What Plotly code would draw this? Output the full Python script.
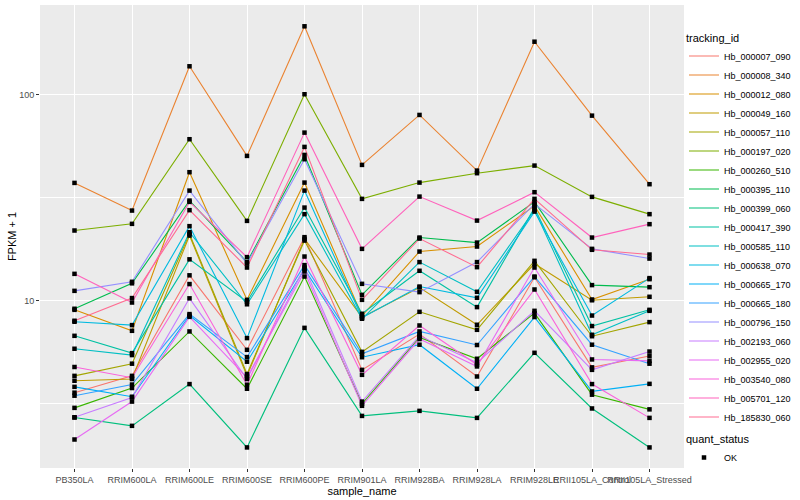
import plotly.graph_objects as go

samples = ["PB350LA", "RRIM600LA", "RRIM600LE", "RRIM600SE", "RRIM600PE", "RRIM901LA",
           "RRIM928BA", "RRIM928LA", "RRIM928LE", "RRII105LA_Control", "RRII105LA_Stressed"]

tracking_ids = ["Hb_000007_090", "Hb_000008_340", "Hb_000012_080", "Hb_000049_160", "Hb_000057_110",
                "Hb_000197_020", "Hb_000260_510", "Hb_000395_110", "Hb_000399_060", "Hb_000417_390",
                "Hb_000585_110", "Hb_000638_070", "Hb_000665_170", "Hb_000665_180", "Hb_000796_150",
                "Hb_002193_060", "Hb_002955_020", "Hb_003540_080", "Hb_005701_120", "Hb_185830_060"]

colors = ["#F8766D", "#EA8331", "#D89000", "#C09B00", "#A3A500", "#7CAE00", "#39B600", "#00BB4E",
          "#00BF7D", "#00C1A3", "#00BFC4", "#00BAE0", "#00B0F6", "#35A2FF", "#9590FF", "#C77CFF",
          "#E76BF3", "#FA62DB", "#FF62BC", "#FF6C91"]

# FPKM + 1 per sample (same order as samples)
hb_000007_090 = [3.58, 4.32, 13.30, 5.78, 20.38, 4.62, 6.89, 4.29, 13.01, 4.75, 5.39]
hb_000008_340 = [37.39, 27.44, 137.8, 50.57, 215.5, 45.73, 79.96, 42.90, 181.4, 79.34, 36.85]
hb_000012_080 = [9.04, 7.15, 42.15, 10.11, 37.52, 8.46, 17.35, 18.35, 28.92, 10.15, 12.74]
hb_000049_160 = [4.09, 4.17, 20.75, 4.32, 20.00, 8.32, 11.60, 7.65, 15.13, 10.06, 10.46]
hb_000057_110 = [4.32, 4.95, 21.14, 4.41, 19.62, 5.65, 8.84, 7.23, 15.64, 6.73, 7.88]
hb_000197_020 = [21.95, 23.65, 60.95, 24.45, 100.8, 31.27, 37.52, 41.68, 45.38, 31.98, 26.36]
hb_000260_510 = [3.02, 3.77, 7.10, 3.74, 13.12, 3.16, 6.64, 5.23, 8.72, 3.50, 2.97]
hb_000395_110 = [9.15, 12.16, 30.68, 15.42, 51.13, 10.69, 20.29, 19.18, 30.24, 11.92, 11.65]
hb_000399_060 = [2.71, 2.47, 3.94, 1.94, 7.39, 2.76, 2.92, 2.70, 5.59, 3.00, 1.94]
hb_000417_390 = [6.76, 5.57, 15.90, 9.89, 28.37, 8.65, 13.99, 9.32, 28.28, 7.54, 9.04]
hb_000585_110 = [5.85, 5.45, 21.55, 9.62, 26.36, 8.18, 15.42, 11.06, 27.65, 6.84, 8.94]
hb_000638_070 = [7.91, 7.62, 23.05, 6.59, 34.31, 8.27, 11.73, 10.34, 27.13, 8.48, 12.89]
hb_000665_170 = [3.82, 3.42, 8.48, 5.06, 14.25, 5.32, 6.12, 3.74, 8.34, 3.63, 3.95]
hb_000665_180 = [3.46, 3.92, 8.62, 5.33, 14.91, 5.53, 7.10, 6.10, 13.12, 6.12, 4.95]
hb_000796_150 = [11.18, 12.37, 34.31, 15.17, 48.74, 12.09, 11.02, 15.42, 29.57, 17.88, 16.04]
hb_002193_060 = [2.72, 3.39, 10.28, 4.17, 14.51, 3.24, 6.76, 5.00, 8.94, 4.62, 5.67]
hb_002955_020 = [2.12, 3.24, 8.36, 4.24, 13.88, 3.09, 6.52, 4.80, 14.51, 5.19, 5.11]
hb_003540_080 = [4.77, 4.23, 12.06, 3.91, 16.41, 4.37, 7.59, 4.89, 11.35, 3.94, 2.70]
hb_005701_120 = [13.52, 9.81, 30.24, 16.30, 65.62, 17.88, 32.08, 24.53, 33.70, 20.29, 23.57]
hb_185830_060 = [8.00, 10.31, 27.56, 14.51, 55.92, 10.11, 20.06, 14.57, 31.27, 17.69, 16.78]

series_values = [hb_000007_090, hb_000008_340, hb_000012_080, hb_000049_160, hb_000057_110,
                 hb_000197_020, hb_000260_510, hb_000395_110, hb_000399_060, hb_000417_390,
                 hb_000585_110, hb_000638_070, hb_000665_170, hb_000665_180, hb_000796_150,
                 hb_002193_060, hb_002955_020, hb_003540_080, hb_005701_120, hb_185830_060]

status_label = "OK"

FONT = "Liberation Sans, Arial, sans-serif"

fig = go.Figure()
for name, col, vals in zip(tracking_ids, colors, series_values):
    fig.add_trace(go.Scatter(x=samples, y=vals, mode="lines", name=name,
                             line=dict(color=col, width=1.1), legend="legend"))

all_x = [s for _ in series_values for s in samples]
all_y = [v for vals in series_values for v in vals]
fig.add_trace(go.Scatter(x=all_x, y=all_y, mode="markers", name=status_label,
                         marker=dict(color="black", size=4.5, symbol="square"),
                         legend="legend2"))

fig.update_layout(
    width=800, height=500,
    margin=dict(l=40, r=116, t=5, b=32, autoexpand=False),
    paper_bgcolor="white", plot_bgcolor="#EBEBEB",
    font=dict(family=FONT, size=9, color="#4D4D4D"),
    legend=dict(title=dict(text="tracking_id", font=dict(size=11, color="black")),
                x=1.0, xanchor="left", y=0.952, yanchor="top",
                font=dict(size=9, color="black"), bgcolor="rgba(0,0,0,0)",
                tracegroupgap=0, itemwidth=30),
    legend2=dict(title=dict(text="quant_status", font=dict(size=11, color="black")),
                 x=1.0, xanchor="left", y=-0.01, yanchor="bottom",
                 font=dict(size=9, color="black"), bgcolor="rgba(0,0,0,0)", itemwidth=30),
)

fig.update_xaxes(
    type="category", categoryorder="array", categoryarray=samples,
    range=[-0.6, len(samples) - 0.4], automargin=False,
    showgrid=True, gridcolor="white", gridwidth=1.1,
    ticks="outside", ticklen=3, tickcolor="#333333", tickangle=0,
    tickfont=dict(size=9, color="#4D4D4D"),
    title=dict(text="sample_name", font=dict(size=11, color="black"), standoff=0),
    zeroline=False, showline=False,
)

fig.update_yaxes(
    type="log", range=[0.1879, 2.4369], automargin=False,
    tickvals=[10, 100], ticktext=["10", "100"],
    showgrid=True, gridcolor="white", gridwidth=1.1,
    minor=dict(tickvals=[10 ** 0.5, 10 ** 1.5, 10 ** 2.5], showgrid=True,
               gridcolor="white", gridwidth=0.55, ticks=""),
    ticks="outside", ticklen=3, tickcolor="#333333",
    tickfont=dict(size=9, color="#4D4D4D"),
    title=dict(text="FPKM + 1", font=dict(size=11, color="black"), standoff=0),
    zeroline=False, showline=False,
)

fig.write_html("out.html", post_script="document.body.style.margin='0';",
               config={"displayModeBar": False})
